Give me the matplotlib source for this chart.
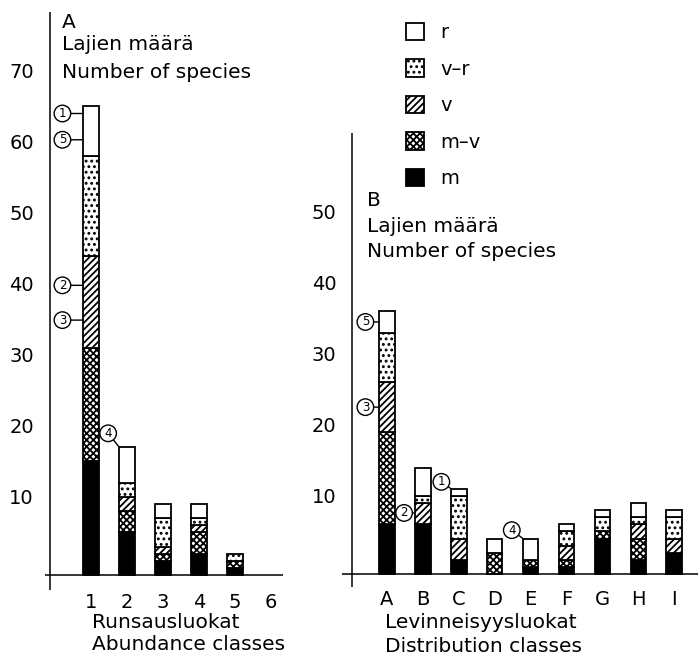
import matplotlib.pyplot as plt
from matplotlib.patches import Patch

plt.rcParams['font.family'] = 'DejaVu Sans'
plt.rcParams['hatch.linewidth'] = 1.3

W, H = 698, 658

layers = ['m', 'm–v', 'v', 'v–r', 'r']
hatches = [None, 'xxxxx', '/////', '...', None]
fills = ['black', 'white', 'white', 'white', 'white']

# A: abundance classes (Runsausluokat)
abund_classes = [1, 2, 3, 4, 5, 6]
abund_m = [16, 6, 2, 3, 1, 0]
abund_mv = [16, 3, 1, 3, 1, 0]
abund_v = [13, 2, 1, 1, 0, 0]
abund_vr = [14, 2, 4, 1, 1, 0]
abund_r = [7, 5, 2, 2, 0, 0]

# B: distribution classes (Levinneisyysluokat)
dist_classes = ['A', 'B', 'C', 'D', 'E', 'F', 'G', 'H', 'I']
dist_m = [7, 7, 2, 0, 1, 1, 5, 2, 3]
dist_mv = [13, 0, 0, 3, 1, 1, 1, 3, 0]
dist_v = [7, 3, 3, 0, 0, 2, 0, 2, 2]
dist_vr = [7, 1, 6, 0, 0, 2, 2, 1, 3]
dist_r = [3, 4, 1, 2, 3, 1, 1, 2, 1]

# circled labels: (class index, value, label, offset in points)
abund_marks = [(0, 65, '1', (-15, 0)), (0, 61.3, '5', (-15, 0)),
               (0, 40.8, '2', (-15, 0)), (0, 35.9, '3', (-15, 0)),
               (1, 18, '4', (-8, 10))]
dist_marks = [(0, 35.5, '5', (-10, 0)), (0, 23.5, '3', (-10, 0)),
              (1, 8.6, '2', (-8, 0)), (2, 12, '1', (-7, 5)),
              (4, 5, '4', (-8, 6))]

bw = 0.43
fs = 14


def px(x, y):
    return x / W, 1 - y / H


def stacked(ax, xs, series, marks, yaxis_x):
    bottom = [0] * len(xs)
    for vals, hat, fc in zip(series, hatches, fills):
        keep = [i for i, v in enumerate(vals) if v > 0]
        ax.bar([xs[i] for i in keep], [vals[i] for i in keep], bw,
               bottom=[bottom[i] for i in keep], color=fc, edgecolor='black',
               hatch=hat, linewidth=1.3)
        bottom = [b + v for b, v in zip(bottom, vals)]
    for s in ax.spines.values():
        s.set_visible(False)
    ax.axhline(0, color='black', lw=1.1)
    ax.axvline(yaxis_x, color='black', lw=1.1)
    ax.tick_params(length=0, labelsize=fs)
    for lab in ax.get_yticklabels():
        lab.set_va('baseline')
    for i, val, txt, off in marks:
        ax.annotate(txt, xy=(xs[i] - bw / 2, val), xytext=off,
                    textcoords='offset points', ha='center', va='center',
                    fontsize=8.5,
                    bbox=dict(boxstyle='circle,pad=0.15', fc='white',
                              ec='black', lw=1.0),
                    arrowprops=dict(arrowstyle='-', lw=1.0, color='black',
                                    shrinkA=0, shrinkB=0))


fig = plt.figure(figsize=(W / 100, H / 100), dpi=100)

# panel A
axA = fig.add_axes([45 / W, 1 - 590 / H, (283 - 45) / W, (590 - 12) / H])
axA.set_xlim(1 + (45 - 91) / 36, 1 + (283 - 91) / 36)
axA.set_ylim(-(590 - 575) / 7.1, (575 - 12) / 7.1)
axA.set_yticks([10, 20, 30, 40, 50, 60, 70])
axA.set_xticks(abund_classes)
axA.set_xticklabels([str(c) for c in abund_classes])
axA.tick_params(axis='y', pad=8)
axA.tick_params(axis='x', pad=2)
stacked(axA, abund_classes, [abund_m, abund_mv, abund_v, abund_vr, abund_r],
        abund_marks, 1 + (50 - 91) / 36)

# panel B
xsB = list(range(len(dist_classes)))
axB = fig.add_axes([342 / W, 1 - 587 / H, (698 - 342) / W, (587 - 133) / H])
axB.set_xlim((342 - 387) / 35.9, (698 - 387) / 35.9)
axB.set_ylim(-(587 - 574) / 7.1, (574 - 133) / 7.1)
axB.set_yticks([10, 20, 30, 40, 50])
axB.set_xticks(xsB)
axB.set_xticklabels(dist_classes)
axB.tick_params(axis='y', pad=4)
axB.tick_params(axis='x', pad=2)
stacked(axB, xsB, [dist_m, dist_mv, dist_v, dist_vr, dist_r],
        dist_marks, (352 - 387) / 35.9)

# titles and axis captions
for x, y, t in [(62, 22, 'A'), (62, 45, 'Lajien määrä'), (62, 72, 'Number of species'),
                (367, 201, 'B'), (367, 226, 'Lajien määrä'), (367, 251, 'Number of species'),
                (92, 622, 'Runsausluokat'), (92, 645, 'Abundance classes'),
                (385, 623, 'Levinneisyysluokat'), (385, 647, 'Distribution classes')]:
    fig.text(*px(x, y), t, fontsize=fs + 0.5, ha='left', va='center')

handles = [Patch(facecolor=fc, edgecolor='black', hatch=h, linewidth=1.3)
           for fc, h in zip(fills, hatches)]
fig.legend(handles[::-1], layers[::-1], loc='upper left',
           bbox_to_anchor=px(406, 23), frameon=False, fontsize=fs,
           handlelength=0.95, handleheight=1.0, handletextpad=0.8,
           labelspacing=0.88, borderpad=0, borderaxespad=0)

fig.savefig('out.png', dpi=100, facecolor='white')
